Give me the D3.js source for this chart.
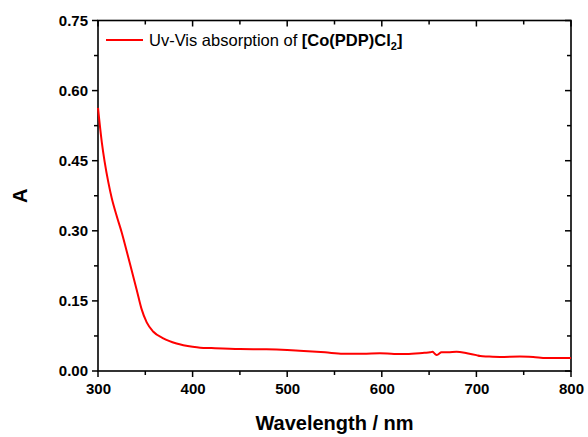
<!DOCTYPE html>
<html>
<head>
<meta charset="utf-8">
<script src="https://cdn.jsdelivr.net/npm/d3@7"></script>
<style>
  html, body { margin: 0; padding: 0; background: #fff; }
  svg { display: block; font-family: "Liberation Sans", Arial, sans-serif; }
</style>
</head>
<body>
<script>
// UV-Vis absorption spectrum of [Co(PDP)Cl2]
const wavelength = [300, 304, 307, 311, 314.5, 320, 325, 330, 335.5, 341, 346, 351.5, 358.5, 369, 383, 400, 408, 420, 450, 478, 500, 513, 540, 559, 580, 598, 613, 626, 645, 651, 653.5, 656, 658, 660, 663, 670, 679, 690, 700, 704, 712, 725, 746, 760, 774, 790, 800];
const absorbance = [0.563, 0.49, 0.448, 0.403, 0.370, 0.330, 0.297, 0.259, 0.216, 0.173, 0.133, 0.104, 0.084, 0.070, 0.059, 0.052, 0.050, 0.049, 0.047, 0.0465, 0.045, 0.0435, 0.040, 0.037, 0.037, 0.038, 0.0365, 0.0364, 0.039, 0.040, 0.041, 0.037, 0.034, 0.036, 0.040, 0.040, 0.041, 0.038, 0.034, 0.032, 0.031, 0.030, 0.031, 0.030, 0.028, 0.028, 0.028];
const xTicks = [300, 400, 500, 600, 700, 800];
const yTicks = [0.00, 0.15, 0.30, 0.45, 0.60, 0.75];
const xMinor = [350, 450, 550, 650, 750];
const yMinor = [0.075, 0.225, 0.375, 0.525, 0.675];
const legendText = "Uv-Vis absorption of ";

const W = 588, H = 437;
const margin = { left: 98, right: 17, top: 20.5, bottom: 66 };

const svg = d3.select("body").append("svg").attr("width", W).attr("height", H);

const x = d3.scaleLinear().domain([300, 800]).range([margin.left, W - margin.right]);
const y = d3.scaleLinear().domain([0, 0.75]).range([H - margin.bottom, margin.top]);

const x0 = x(300), x1 = x(800), y0 = y(0), y1 = y(0.75);

// tick labels via d3 axes (tick marks drawn separately below)
function styleLabels(g) {
  g.select(".domain").remove();
  g.selectAll(".tick line").remove();
  g.selectAll(".tick text")
    .attr("font-family", "'Liberation Sans', Arial, sans-serif")
    .attr("font-size", 15).attr("font-weight", "bold").attr("fill", "#000");
}
svg.append("g").attr("transform", `translate(0,${y0})`)
  .call(d3.axisBottom(x).tickValues(xTicks).tickSize(0).tickPadding(12).tickFormat(d3.format("d")))
  .call(styleLabels);
svg.append("g").attr("transform", `translate(${x0},0)`)
  .call(d3.axisLeft(y).tickValues(yTicks).tickSize(0).tickPadding(10).tickFormat(d3.format(".2f")))
  .call(styleLabels);

// tick marks: outward on bottom/left, inward on top/right
const ticks = svg.append("g").attr("stroke", "#000").attr("stroke-width", 1.5);
const xAll = xTicks.map(v => ({ v, len: 6 })).concat(xMinor.map(v => ({ v, len: 4 })));
const yAll = yTicks.map(v => ({ v, len: 6 })).concat(yMinor.map(v => ({ v, len: 4 })));

ticks.selectAll("line.xb").data(xAll).join("line").attr("class", "xb")
  .attr("x1", d => x(d.v)).attr("x2", d => x(d.v))
  .attr("y1", y0).attr("y2", d => y0 + d.len);
ticks.selectAll("line.xt").data(xAll).join("line").attr("class", "xt")
  .attr("x1", d => x(d.v)).attr("x2", d => x(d.v))
  .attr("y1", y1).attr("y2", d => y1 + d.len);
ticks.selectAll("line.yl").data(yAll).join("line").attr("class", "yl")
  .attr("y1", d => y(d.v)).attr("y2", d => y(d.v))
  .attr("x1", x0).attr("x2", d => x0 - d.len);
ticks.selectAll("line.yr").data(yAll).join("line").attr("class", "yr")
  .attr("y1", d => y(d.v)).attr("y2", d => y(d.v))
  .attr("x1", x1).attr("x2", d => x1 - d.len);

// frame
svg.append("rect")
  .attr("x", x0).attr("y", y1)
  .attr("width", x1 - x0).attr("height", y0 - y1)
  .attr("fill", "none").attr("stroke", "#000").attr("stroke-width", 1.6);

// spectrum
const line = d3.line().x((d, i) => x(wavelength[i])).y(d => y(d)).curve(d3.curveMonotoneX);
svg.append("path").datum(absorbance)
  .attr("d", line)
  .attr("fill", "none").attr("stroke", "#ff0000").attr("stroke-width", 2)
  .attr("stroke-linejoin", "round");

// axis titles
svg.append("text")
  .attr("x", (x0 + x1) / 2).attr("y", 430)
  .attr("text-anchor", "middle")
  .attr("font-size", 20).attr("font-weight", "bold").text("Wavelength / nm");

svg.append("text")
  .attr("transform", `translate(27,${(y0 + y1) / 2}) rotate(-90)`)
  .attr("text-anchor", "middle")
  .attr("font-size", 20).attr("font-weight", "bold").text("A");

// legend
const lg = svg.append("g");
lg.append("line").attr("x1", 106).attr("x2", 143).attr("y1", 40).attr("y2", 40)
  .attr("stroke", "#ff0000").attr("stroke-width", 2);
const lt = lg.append("text").attr("x", 149).attr("y", 46).attr("font-size", 16.5);
lt.append("tspan").text(legendText);
lt.append("tspan").attr("font-weight", "bold").text("[Co(PDP)Cl");
lt.append("tspan").attr("font-weight", "bold").attr("font-size", 11).attr("dy", 4).text("2");
lt.append("tspan").attr("font-weight", "bold").attr("dy", -4).text("]");
</script>
</body>
</html>
